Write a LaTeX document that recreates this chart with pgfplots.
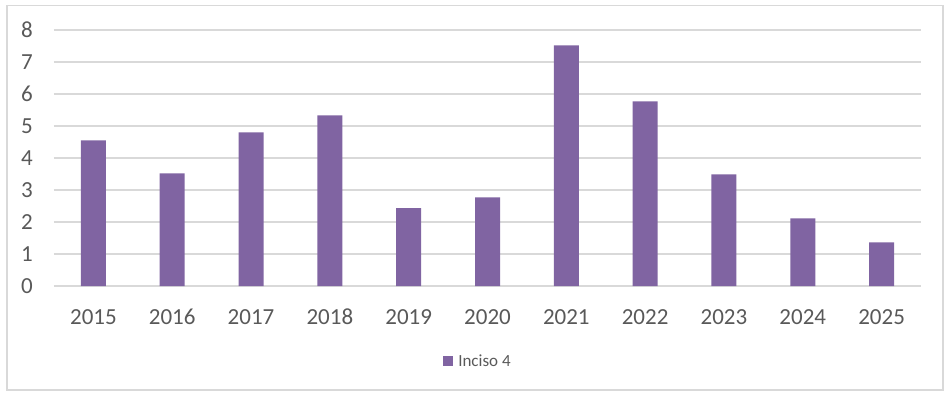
\documentclass[border=0pt]{standalone}
\usepackage{pgfplots}
\pgfplotsset{compat=1.18}
\usepackage{fontspec}
\setmainfont{Carlito}
\definecolor{barc}{HTML}{8064A2}
\definecolor{gridc}{HTML}{D9D9D9}
\definecolor{txtc}{HTML}{595959}
\begin{document}
\begin{tikzpicture}
\useasboundingbox (-54pt,-111pt) rectangle (896pt,286pt);
\begin{axis}[
  at={(0pt,0pt)}, anchor=south west,
  scale only axis,
  width=867pt, height=256pt,
  xmin=-0.5, xmax=10.5,
  ymin=0, ymax=8,
  ytick={0,1,...,8},
  xtick=data,
  xticklabels={2015,2016,2017,2018,2019,2020,2021,2022,2023,2024,2025},
  axis line style={draw=none},
  major tick length=0pt,
  ymajorgrids,
  grid style={gridc, line width=1.5pt},
  /pgf/number format/assume math mode=true,
  tick label style={font=\fontsize{23}{26}\selectfont, text=txtc},
  yticklabel style={anchor=east, inner sep=0pt, xshift=-21pt},
  xticklabel style={anchor=center, inner sep=0pt, yshift=-31pt},
  legend style={at={(0.489,-0.293)}, anchor=center, draw=none, fill=none,
    font=\fontsize{17}{20}\selectfont, text=txtc,
    legend cell align=left, inner sep=0pt},
  legend image code/.code={\fill[barc] (0pt,-5pt) rectangle (10pt,5pt); \path (13pt,0pt);},
]
\addplot[ybar, bar width=25pt, fill=barc, draw=none] coordinates {
(0,4.55) (1,3.52) (2,4.80) (3,5.33) (4,2.43) (5,2.77) (6,7.52) (7,5.77) (8,3.49) (9,2.11) (10,1.36)
};
\addlegendentry{Inciso 4}
\end{axis}
\draw[gridc, line width=1.5pt] (-47pt,-104pt) rectangle (889pt,280.7pt);
\end{tikzpicture}
\end{document}
